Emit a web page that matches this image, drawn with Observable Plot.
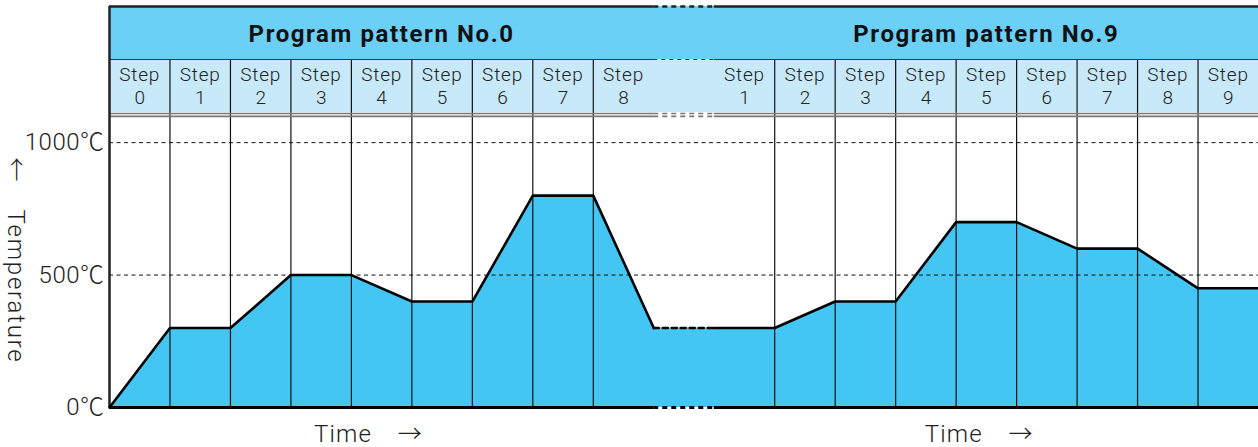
<!DOCTYPE html>
<html>
<head>
<meta charset="utf-8">
<script src="https://cdn.jsdelivr.net/npm/d3@7"></script>
<script src="https://cdn.jsdelivr.net/npm/@observablehq/plot@0.6"></script>
<style>
  html, body { margin: 0; padding: 0; background: #fff; }
  #chart svg { display: block; }
</style>
</head>
<body>
<div id="chart"></div>
<script>
// ---- data ----
const patternTitles = ["Program pattern No.0", "Program pattern No.9"];
const leftSteps = [0, 1, 2, 3, 4, 5, 6, 7, 8];
const rightSteps = [1, 2, 3, 4, 5, 6, 7, 8, 9];
// temperature at each step boundary (℃)
const leftTemps = [0, 300, 300, 500, 500, 400, 400, 800, 800, 300];
const rightTemps = [300, 300, 400, 400, 700, 700, 600, 600, 450, 450];
const yTicks = [0, 500, 1000];
const yTickLabels = ["0℃", "500℃", "1000℃"];
const stepWord = "Step";
const xTitle = "Time\u2003→";
const yTitle = "←\u2003Temperature";

// ---- layout (x in step slots, y in ℃ units) ----
const GAP = leftSteps.length;               // slot 9 is the break
const RIGHT0 = GAP + 1;                     // right panel starts at slot 10
const XMAX = RIGHT0 + rightSteps.length;    // 19
const TOP = 1514, BAND = 1314, BAND2 = 1114, DBL1 = 1110, DBL2 = 1099;

const leftProfile = leftTemps.map((t, i) => ({x: i, t}));
const rightProfile = rightTemps.map((t, i) => ({x: RIGHT0 + i, t}));
const gapProfile = [leftProfile[leftProfile.length - 1], rightProfile[0]];
const allProfile = [...leftProfile, ...rightProfile];

const stepLabels = [
  ...leftSteps.map((s, i) => ({x: i + 0.5, n: String(s)})),
  ...rightSteps.map((s, i) => ({x: RIGHT0 + i + 0.5, n: String(s)}))
];
const dividers = [
  ...leftSteps.slice(1).map((_, i) => i + 1),
  ...rightSteps.slice(1).map((_, i) => RIGHT0 + i + 1)
];
const titles = [
  {x: GAP / 2, label: patternTitles[0]},
  {x: RIGHT0 + rightSteps.length / 2, label: patternTitles[1]}
];
const tickData = yTicks.map((v, i) => ({v, label: yTickLabels[i]}));

const font = "Roboto, 'Noto Sans CJK JP', sans-serif";
const ink = "#222";

function segH(y, strokeWidth, stroke, dash) {
  // solid on both panels, dashed across the break
  return [
    Plot.ruleY([y], {x1: 0, x2: GAP, stroke, strokeWidth}),
    Plot.ruleY([y], {x1: GAP, x2: RIGHT0, stroke, strokeWidth, strokeDasharray: dash}),
    Plot.ruleY([y], {x1: RIGHT0, x2: XMAX, stroke, strokeWidth})
  ];
}

const chart = Plot.plot({
  width: 1258,
  height: 447,
  marginLeft: 109,
  marginRight: 0,
  marginTop: 6,
  marginBottom: 40,
  x: {domain: [0, XMAX], axis: null},
  y: {domain: [0, TOP], axis: null},
  style: {fontFamily: font, background: "white", overflow: "visible"},
  marks: [
    // header bands
    Plot.rectY([0], {x1: 0, x2: XMAX, y1: BAND, y2: TOP, fill: "#6CCFF6"}),
    Plot.rectY([0], {x1: 0, x2: XMAX, y1: BAND2, y2: BAND, fill: "#C7E9FA"}),
    // area fill
    Plot.areaY(allProfile, {x: "x", y: "t", fill: "#43C6F3"}),
    // dashed grid
    Plot.ruleY([500, 1000], {x1: 0, x2: XMAX, stroke: "#111", strokeWidth: 1, strokeDasharray: "4,3.5"}),
    // step dividers
    Plot.ruleX(dividers, {y1: 0, y2: BAND, stroke: "#111", strokeWidth: 1.2}),
    // band separator
    ...segH(BAND, 1, "#333", "4,4"),
    // double line
    ...segH(DBL1, 1.6, "#777", "5,4"),
    ...segH(DBL2, 1.6, "#777", "5,4"),
    // top border
    ...segH(TOP, 2.5, "#222", "5,4"),
    // baseline
    ...segH(0, 2.8, "#000", "5,4"),
    // left border
    Plot.ruleX([0], {y1: 0, y2: TOP, stroke: "#222", strokeWidth: 2.5}),
    // profile
    Plot.line(leftProfile, {x: "x", y: "t", stroke: "#000", strokeWidth: 2.6, strokeLinejoin: "miter"}),
    Plot.line(gapProfile, {x: "x", y: "t", stroke: "#000", strokeWidth: 2.6, strokeDasharray: "5,4"}),
    Plot.line(rightProfile, {x: "x", y: "t", stroke: "#000", strokeWidth: 2.6, strokeLinejoin: "miter"}),
    // header titles
    Plot.text(titles, {x: "x", y: (BAND + TOP) / 2, text: "label", fontSize: 24, fontWeight: "bold", fill: "#111", dy: 1, ariaDescription: "pattern-title"}),
    // step labels (two lines)
    Plot.text(stepLabels, {x: "x", y: (BAND2 + BAND) / 2, dy: -11, text: () => stepWord, fontSize: 19, fill: ink, fontWeight: 300, ariaDescription: "step-word"}),
    Plot.text(stepLabels, {x: "x", y: (BAND2 + BAND) / 2, dy: 12, text: "n", fontSize: 19, fill: ink, fontWeight: 300, ariaDescription: "step-num"}),
    // y tick labels
    Plot.text(tickData, {x: 0, y: "v", text: "label", dx: -5, textAnchor: "end", fontSize: 24, fill: ink, fontWeight: 300, ariaDescription: "y-tick"}),
    // x titles
    Plot.text([3.38, RIGHT0 + 3.48], {x: d => d, frameAnchor: "bottom", lineAnchor: "middle", dy: 27, text: () => xTitle, textAnchor: "start", fontSize: 24, fill: ink, fontWeight: 300, ariaDescription: "x-title"}),
    // y title
    Plot.text([0], {frameAnchor: "left", dx: -94, y: 555, text: () => yTitle, rotate: 90, textAnchor: "middle", lineAnchor: "middle", fontSize: 24, fill: ink, fontWeight: 300, ariaDescription: "y-title"})
  ]
});
// wider letter spacing to match the reference's broad typeface
const spacing = {"pattern-title": 1.6, "step-word": 0.8, "y-tick": 0.5, "x-title": 1.2, "y-title": 1.8};
for (const [label, ls] of Object.entries(spacing)) {
  d3.select(chart).selectAll(`g[aria-description="${label}"] text`).attr("letter-spacing", ls);
}
document.getElementById("chart").appendChild(chart);
</script>
</body>
</html>
